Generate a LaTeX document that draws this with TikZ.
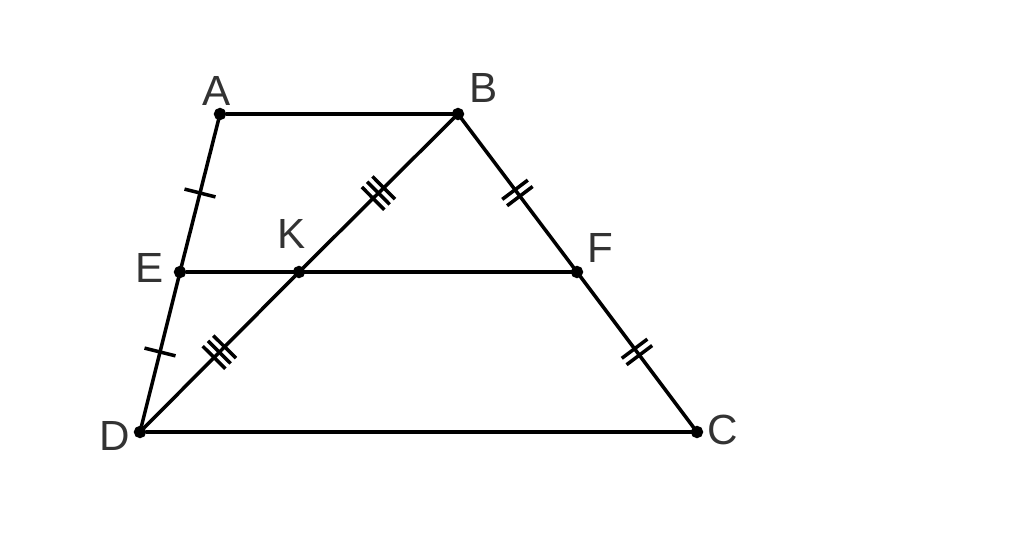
\documentclass[tikz,border=0pt]{standalone}
\usepackage{fontspec}
\setmainfont{Liberation Sans}
\usetikzlibrary{decorations.markings}

\begin{document}
\begin{tikzpicture}[
	dot/.style={draw,circle,fill=black,inner sep=0,outer sep=0,minimum size=0.11cm},
	lbl/.style={inner sep=0,text=black!80,font=\fontsize{12}{14}\selectfont},
	seg/.style={line width=1pt},
	tick1/.style={postaction={decorate,decoration={markings,mark=at position 0.5 with {\draw[seg] (0,-0.16) -- (0,0.16);}}}},
	tick2/.style={postaction={decorate,decoration={markings,mark=at position 0.5 with {\draw[seg] (-0.04,-0.16) -- (-0.04,0.16) (0.04,-0.16) -- (0.04,0.16);}}}},
	tick3/.style={postaction={decorate,decoration={markings,mark=at position 0.5 with {\draw[seg] (-0.075,-0.16) -- (-0.075,0.16) (0,-0.16) -- (0,0.16) (0.075,-0.16) -- (0.075,0.16);}}}}
]
	\useasboundingbox (0,0) rectangle (10.24,5.39);
	\node[dot] (A) at (2.20,4.25) {};
	\node[dot] (B) at (4.58,4.25) {};
	\node[dot] (C) at (6.97,1.07) {};
	\node[dot] (D) at (1.40,1.07) {};
	\node[dot] (E) at (1.80,2.67) {};
	\node[dot] (K) at (2.99,2.67) {};
	\node[dot] (F) at (5.77,2.67) {};
	\node[lbl] (lA) at (2.17,4.48) {A};
	\node[lbl] (lB) at (4.84,4.51) {B};
	\node[lbl] (lC) at (7.23,1.09) {C};
	\node[lbl] (lD) at (1.15,1.03) {D};
	\node[lbl] (lE) at (1.50,2.71) {E};
	\node[lbl] (lK) at (2.92,3.05) {K};
	\node[lbl] (lF) at (6.00,2.91) {F};
	\draw[seg] (A) -- (B);
	\draw[seg] (D) -- (C);
	\draw[seg] (E) -- (F);
	\draw[seg,tick1] (A) -- (E);
	\draw[seg,tick1] (E) -- (D);
	\draw[seg,tick3] (D) -- (K);
	\draw[seg,tick3] (K) -- (B);
	\draw[seg,tick2] (B) -- (F);
	\draw[seg,tick2] (F) -- (C);
\end{tikzpicture}
\end{document}
